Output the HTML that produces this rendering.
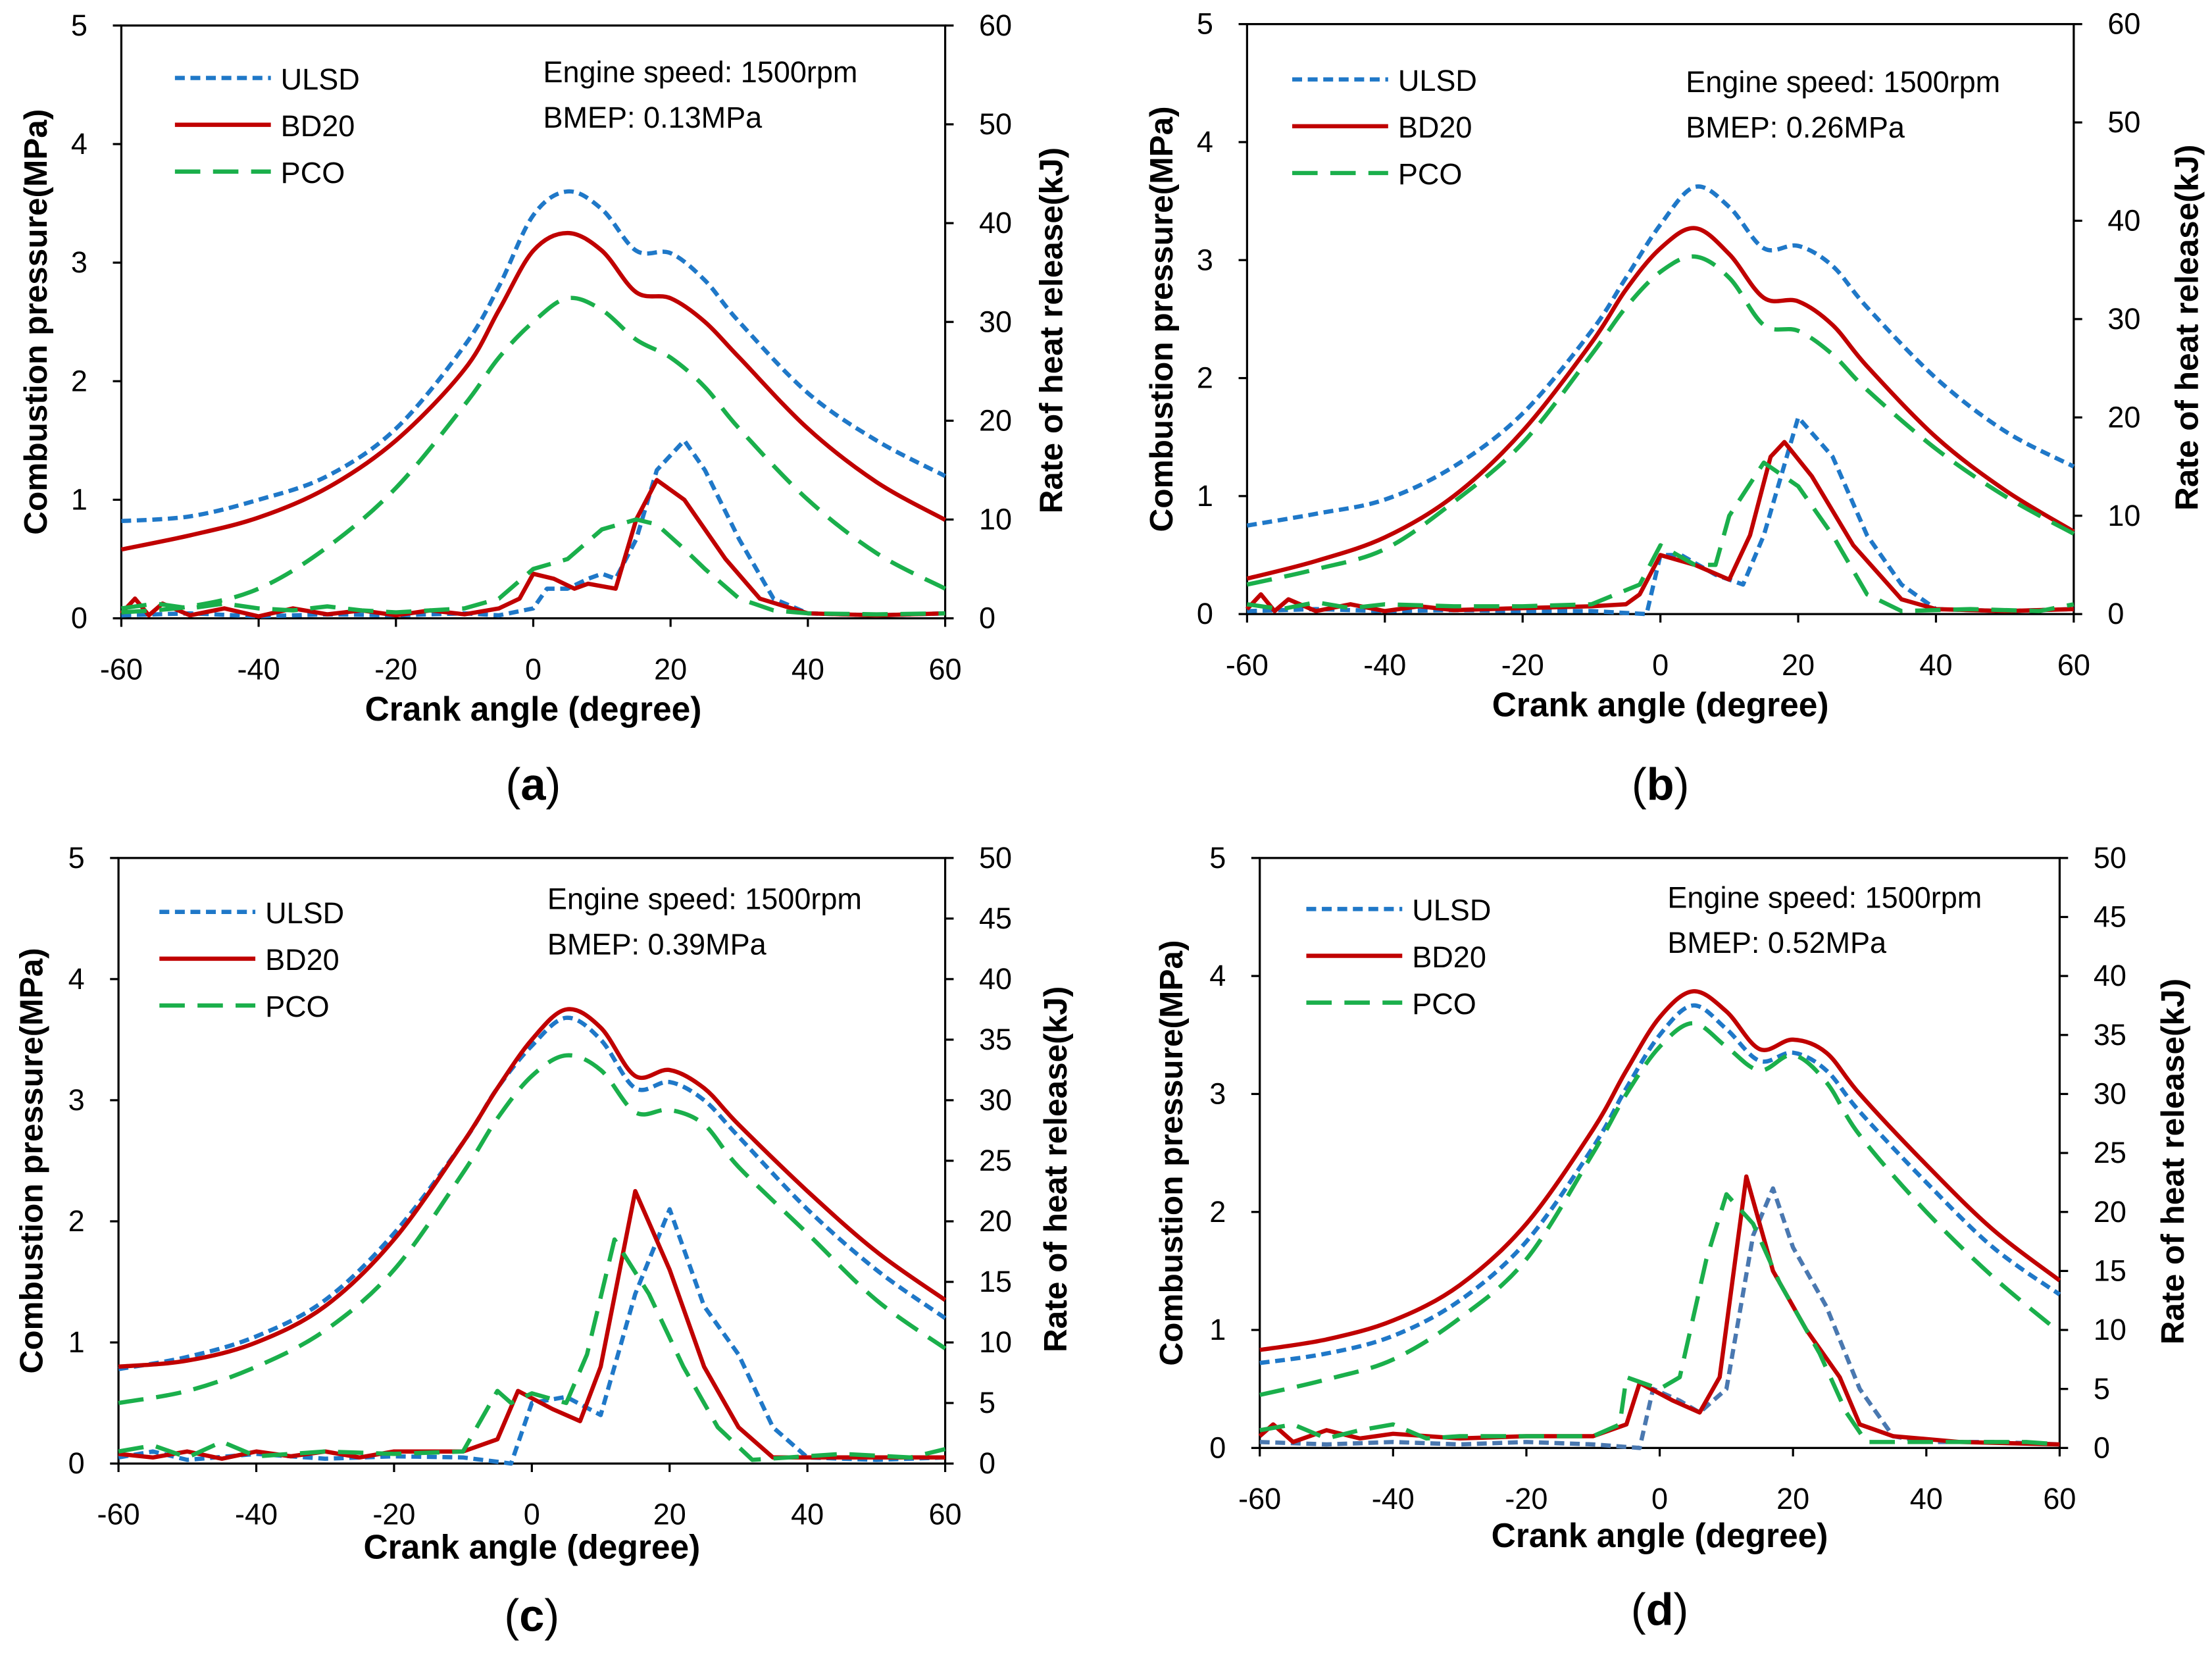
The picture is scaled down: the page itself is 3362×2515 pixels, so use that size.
<!DOCTYPE html>
<html><head><meta charset="utf-8">
<style>
html,body{margin:0;padding:0;background:#fff;}
svg{display:block;}
text{font-family:"Liberation Sans",sans-serif;}
</style></head>
<body>
<svg id="root" xmlns="http://www.w3.org/2000/svg" width="3362" height="2515" viewBox="0 0 1568 1167" preserveAspectRatio="none"></svg>
<script>
// ---- Data (crank angle, value) ----
const categoriesTicks = [-60,-40,-20,0,20,40,60];
const leftTicks = [0,1,2,3,4,5];
const rightTicksA = [0,10,20,30,40,50,60];
const rightTicksC = [0,5,10,15,20,25,30,35,40,45,50];
const seriesNames = ["ULSD","BD20","PCO"];
const speedText = ["Engine speed: 1500rpm","Engine speed: 1500rpm","Engine speed: 1500rpm","Engine speed: 1500rpm"];
const bmepText = ["BMEP: 0.13MPa","BMEP: 0.26MPa","BMEP: 0.39MPa","BMEP: 0.52MPa"];
const tagText = ["a","b","c","d"];

// Panel (a)
const pA_ULSD = [[-60,0.82],[-50,0.86],[-40,1.0],[-30,1.2],[-20,1.6],[-10,2.3],[-5,2.8],[0,3.4],[5,3.6],[10,3.45],[15,3.1],[20,3.08],[25,2.85],[30,2.5],[40,1.9],[50,1.5],[60,1.2]];
const pA_BD20 = [[-60,0.58],[-50,0.7],[-40,0.85],[-30,1.1],[-20,1.5],[-10,2.1],[-5,2.6],[0,3.1],[5,3.25],[10,3.1],[15,2.75],[20,2.7],[25,2.5],[30,2.2],[40,1.6],[50,1.15],[60,0.83]];
const pA_PCO = [[-60,0.05],[-50,0.1],[-40,0.25],[-30,0.6],[-20,1.1],[-10,1.8],[-5,2.2],[0,2.5],[5,2.7],[10,2.6],[15,2.35],[20,2.2],[25,1.95],[30,1.6],[40,1.0],[50,0.55],[60,0.25]];
const hA_ULSD = [[-60,0.3],[-50,0.5],[-40,0.2],[-30,0.4],[-20,0.3],[-10,0.5],[-5,0.3],[0,1],[2,3],[5,3],[8,4],[10,4.5],[12,4],[15,8],[18,15],[22,18],[25,15],[30,8],[35,2],[40,0.5],[50,0.3],[60,0.5]];
const hA_BD20 = [[-60,0.5],[-58,2],[-56,0.3],[-54,1.5],[-50,0.3],[-45,1],[-40,0.2],[-35,1],[-30,0.4],[-25,0.8],[-20,0.3],[-15,0.8],[-10,0.4],[-5,1],[-2,2],[0,4.5],[3,4],[6,3],[8,3.5],[12,3],[15,10],[18,14],[22,12],[28,6],[33,2],[40,0.5],[50,0.3],[60,0.5]];
const hA_PCO = [[-60,1],[-55,1.5],[-50,1],[-45,1.5],[-40,1],[-35,0.8],[-30,1.2],[-25,0.8],[-20,0.6],[-10,1],[-5,2],[0,5],[5,6],[10,9],[15,10],[18,9.5],[22,7],[25,5],[30,2],[35,0.8],[40,0.5],[50,0.4],[60,0.5]];
// Panel (b)
const pB_ULSD = [[-60,0.75],[-50,0.85],[-40,0.97],[-30,1.25],[-20,1.7],[-10,2.4],[-5,2.85],[0,3.3],[5,3.62],[10,3.45],[15,3.1],[20,3.12],[25,2.95],[30,2.6],[40,2.0],[50,1.55],[60,1.25]];
const pB_BD20 = [[-60,0.3],[-50,0.45],[-40,0.65],[-30,1.0],[-20,1.55],[-10,2.3],[-5,2.75],[0,3.1],[5,3.27],[10,3.05],[15,2.68],[20,2.65],[25,2.45],[30,2.1],[40,1.5],[50,1.05],[60,0.7]];
const pB_PCO = [[-60,0.25],[-50,0.38],[-40,0.55],[-30,0.95],[-20,1.45],[-10,2.2],[-5,2.6],[0,2.9],[5,3.03],[10,2.85],[15,2.45],[20,2.4],[25,2.2],[30,1.9],[40,1.4],[50,1.0],[60,0.68]];
const hB_ULSD = [[-60,0.3],[-50,0.5],[-40,0.3],[-30,0.4],[-20,0.3],[-10,0.3],[-2,0],[0,6],[3,6],[8,4],[12,3],[15,8],[20,20],[25,16],[30,8],[35,3],[40,0.5],[50,0.3],[60,0.5]];
const hB_BD20 = [[-60,0.5],[-58,2],[-56,0.3],[-54,1.5],[-50,0.3],[-45,1],[-40,0.3],[-35,0.8],[-30,0.4],[-20,0.6],[-10,0.8],[-5,1],[-3,2],[0,6],[5,5],[10,3.5],[13,8],[16,16],[18,17.5],[22,14],[28,7],[35,1.5],[40,0.5],[50,0.3],[60,0.5]];
const hB_PCO = [[-60,1],[-55,0.5],[-50,1.2],[-45,0.6],[-40,1],[-30,0.8],[-20,0.8],[-10,1],[-3,3],[0,7],[5,5],[8,5],[10,10],[15,15.4],[20,13],[25,8],[30,2],[35,0.3],[45,0.5],[55,0.3],[60,1]];
// Panel (c)
const pC_ULSD = [[-60,0.78],[-50,0.88],[-40,1.05],[-30,1.35],[-20,1.9],[-10,2.65],[-5,3.1],[0,3.45],[5,3.68],[10,3.5],[15,3.1],[20,3.15],[25,3.0],[30,2.7],[40,2.1],[50,1.6],[60,1.2]];
const pC_BD20 = [[-60,0.8],[-50,0.85],[-40,1.0],[-30,1.3],[-20,1.85],[-10,2.65],[-5,3.1],[0,3.5],[5,3.75],[10,3.6],[15,3.2],[20,3.25],[25,3.1],[30,2.8],[40,2.25],[50,1.75],[60,1.35]];
const pC_PCO = [[-60,0.5],[-50,0.6],[-40,0.8],[-30,1.1],[-20,1.6],[-10,2.4],[-5,2.85],[0,3.2],[5,3.37],[10,3.25],[15,2.9],[20,2.92],[25,2.8],[30,2.45],[40,1.9],[50,1.35],[60,0.95]];
const hC_ULSD = [[-60,0.5],[-55,1],[-50,0.3],[-40,0.8],[-30,0.4],[-20,0.6],[-10,0.5],[-3,0],[0,5],[5,5.5],[10,4],[15,14],[20,21],[25,13],[30,9],[35,3],[40,0.5],[50,0.3],[60,0.5]];
const hC_BD20 = [[-60,0.8],[-55,0.5],[-50,1],[-45,0.4],[-40,1],[-35,0.6],[-30,1],[-25,0.5],[-20,1],[-10,1],[-5,2],[-2,6],[3,4.5],[7,3.5],[10,8],[15,22.5],[20,16],[25,8],[30,3],[35,0.5],[45,0.5],[60,0.5]];
const hC_PCO = [[-60,1],[-55,1.5],[-50,0.5],[-45,1.8],[-40,0.6],[-30,1],[-20,0.8],[-10,1],[-5,6],[-3,5],[0,5.8],[5,5],[8,9],[12,18.5],[17,14],[22,8],[27,3],[32,0.3],[45,0.8],[55,0.5],[60,1.2]];
// Panel (d)
const pD_ULSD = [[-60,0.72],[-50,0.8],[-40,0.95],[-30,1.25],[-20,1.75],[-10,2.55],[-5,3.05],[0,3.5],[5,3.75],[10,3.55],[15,3.28],[20,3.35],[25,3.2],[30,2.85],[40,2.25],[50,1.7],[60,1.3]];
const pD_BD20 = [[-60,0.83],[-50,0.92],[-40,1.08],[-30,1.38],[-20,1.9],[-10,2.7],[-5,3.2],[0,3.65],[5,3.87],[10,3.7],[15,3.38],[20,3.46],[25,3.35],[30,3.0],[40,2.4],[50,1.85],[60,1.42]];
const pD_PCO = [[-60,0.45],[-50,0.58],[-40,0.75],[-30,1.1],[-20,1.6],[-10,2.5],[-5,3.0],[0,3.4],[5,3.6],[10,3.4],[15,3.2],[20,3.33],[25,3.1],[30,2.65],[40,2.0],[50,1.45],[60,0.98]];
const hD_ULSD = [[-60,0.5],[-50,0.3],[-40,0.5],[-30,0.3],[-20,0.5],[-10,0.3],[-3,0],[-1,5],[3,4],[6,3],[10,5],[14,18],[17,22],[20,17],[25,12],[30,5],[35,1],[40,0.5],[50,0.5],[60,0.3]];
const hD_BD20 = [[-60,1],[-58,2],[-55,0.5],[-50,1.5],[-45,0.8],[-40,1.2],[-30,0.8],[-20,1],[-10,1],[-5,2],[-3,5.5],[2,4],[6,3],[9,6],[13,23],[17,15],[22,10],[27,6],[30,2],[35,1],[45,0.5],[60,0.3]];
const hD_PCO = [[-60,1.5],[-55,2],[-50,0.8],[-45,1.5],[-40,2],[-35,0.8],[-30,1],[-20,1],[-10,1],[-6,2],[-5,6],[0,5],[3,6],[7,16],[10,21.5],[14,19],[18,14],[24,8],[28,3],[31,0.5],[45,0.5],[55,0.5],[60,0.3]];

const panels = [
 {id:"a",x0:86,x1:670,yb:436,yt:18,rmax:60,rt:rightTicksA,lx:124,ly:55,ax:385,ay:50,xly:508,tagy:564,llx:25,rlx:745,
  p:[pA_ULSD,pA_BD20,pA_PCO],h:[hA_ULSD,hA_BD20,hA_PCO]},
 {id:"b",x0:884,x1:1470,yb:433,yt:17,rmax:60,rt:rightTicksA,lx:916,ly:56,ax:1195,ay:57,xly:505,tagy:564,llx:823,rlx:1550,
  p:[pB_ULSD,pB_BD20,pB_PCO],h:[hB_ULSD,hB_BD20,hB_PCO]},
 {id:"c",x0:84,x1:670,yb:1032,yt:605,rmax:50,rt:rightTicksC,lx:113,ly:643,ax:388,ay:633,xly:1099,tagy:1150,llx:22,rlx:748,
  p:[pC_ULSD,pC_BD20,pC_PCO],h:[hC_ULSD,hC_BD20,hC_PCO]},
 {id:"d",x0:893,x1:1460,yb:1021,yt:605,rmax:50,rt:rightTicksC,lx:926,ly:641,ax:1182,ay:632,xly:1091,tagy:1146,llx:830,rlx:1540,
  p:[pD_ULSD,pD_BD20,pD_PCO],h:[hD_ULSD,hD_BD20,hD_PCO]}
];
const colors = ["#1f78c8","#c00000","#1aaf4b"];
const dashes = ["7,4","","18,9"];
const NS="http://www.w3.org/2000/svg";
const root=document.getElementById("root");
function mk(tag,attrs,parent,txt){const e=document.createElementNS(NS,tag);for(const k in attrs)e.setAttribute(k,attrs[k]);if(txt!==undefined)e.textContent=txt;parent.appendChild(e);return e;}
function smoothPath(pts){
  let d="M"+pts[0][0].toFixed(1)+","+pts[0][1].toFixed(1);
  for(let i=0;i<pts.length-1;i++){
    const p0=pts[Math.max(0,i-1)],p1=pts[i],p2=pts[i+1],p3=pts[Math.min(pts.length-1,i+2)];
    const c1x=p1[0]+(p2[0]-p0[0])/6,c1y=p1[1]+(p2[1]-p0[1])/6;
    const c2x=p2[0]-(p3[0]-p1[0])/6,c2y=p2[1]-(p3[1]-p1[1])/6;
    d+=` C${c1x.toFixed(1)},${c1y.toFixed(1)} ${c2x.toFixed(1)},${c2y.toFixed(1)} ${p2[0].toFixed(1)},${p2[1].toFixed(1)}`;
  }
  return d;
}

panels.forEach((P,pi)=>{
  const g=mk("g",{},root);
  
  
  const X=v=>P.x0+(v+60)/120*(P.x1-P.x0);
  const YL=v=>P.yb-v/5*(P.yb-P.yt);
  const YR=v=>P.yb-v/P.rmax*(P.yb-P.yt);
  const frame=mk("rect",{x:P.x0,y:P.yt,width:P.x1-P.x0,height:P.yb-P.yt,fill:"none",stroke:"#000","stroke-width":1.5},g);
  
  
  categoriesTicks.forEach(t=>{
    mk("line",{x1:X(t),x2:X(t),y1:P.yb,y2:P.yb+6,stroke:"#000","stroke-width":1.5},g);
    const tx=mk("text",{x:X(t),y:P.yb+43,"font-size":21,"text-anchor":"middle"},g,String(t));
    
    
  });
  leftTicks.forEach(t=>{
    mk("line",{x1:P.x0-6,x2:P.x0,y1:YL(t),y2:YL(t),stroke:"#000","stroke-width":1.5},g);
    const tx=mk("text",{x:P.x0-24,y:YL(t)+7,"font-size":21,"text-anchor":"end"},g,String(t));
    
    
  });
  P.rt.forEach(t=>{
    mk("line",{x1:P.x1,x2:P.x1+6,y1:YR(t),y2:YR(t),stroke:"#000","stroke-width":1.5},g);
    const tx=mk("text",{x:P.x1+24,y:YR(t)+7,"font-size":21,"text-anchor":"start"},g,String(t));
    
    
  });
  const xl=mk("text",{x:(P.x0+P.x1)/2,y:P.xly,"font-size":24,"font-weight":"bold","text-anchor":"middle"},g,"Crank angle (degree)");
  
  
  const cy=(P.yb+P.yt)/2;
  const yl=mk("text",{x:P.llx,y:cy,"font-size":23,"font-weight":"bold","text-anchor":"middle",transform:`rotate(-90 ${P.llx} ${cy})`,dy:8},g,"Combustion  pressure(MPa)");
  
  
  const ry=cy+6;
  const yr=mk("text",{x:P.rlx,y:ry,"font-size":23,"font-weight":"bold","text-anchor":"middle",transform:`rotate(-90 ${P.rlx} ${ry})`,dy:8},g,"Rate of heat release(kJ)");
  
  
  const tg=mk("text",{x:(P.x0+P.x1)/2,y:P.tagy,"font-size":32,"text-anchor":"middle","font-family":"Liberation Serif, serif"},g);
  
  
  mk("tspan",{},tg,"(");mk("tspan",{"font-weight":"bold"},tg,tagText[pi]);mk("tspan",{},tg,")");
  const a1=mk("text",{x:P.ax,y:P.ay+8,"font-size":21},g,speedText[pi]);
  
  
  const a2=mk("text",{x:P.ax,y:P.ay+40,"font-size":21},g,bmepText[pi]);
  
  
  for(let s=0;s<3;s++){
    const ptsP=P.p[s].map(d=>[X(d[0]),YL(d[1])]);
    const lp=mk("path",{d:smoothPath(ptsP),fill:"none",stroke:colors[s],"stroke-width":3,"stroke-dasharray":dashes[s],"stroke-linejoin":"round"},g);
    
    
    const ptsH=P.h[s].map(d=>X(d[0]).toFixed(1)+","+YR(d[1]).toFixed(1)).join(" ");
    const lh=mk("polyline",{points:ptsH,fill:"none",stroke:(pi===3&&s===0)?"#4a78b0":colors[s],"stroke-width":3,"stroke-dasharray":dashes[s],"stroke-linejoin":"round"},g);
    
    
    const ly=P.ly+s*33;
    const le=mk("g",{},g);
    
    
    mk("line",{x1:P.lx,x2:P.lx+68,y1:ly,y2:ly,stroke:colors[s],"stroke-width":3,"stroke-dasharray":dashes[s]},le);
    mk("text",{x:P.lx+75,y:ly+8,"font-size":21},le,seriesNames[s]);
  }
});
</script>
</body></html>
